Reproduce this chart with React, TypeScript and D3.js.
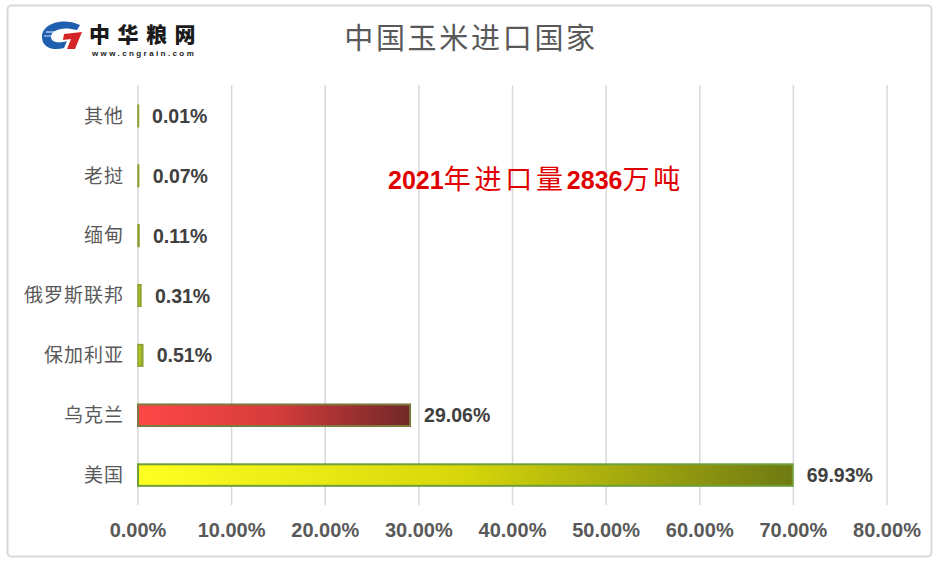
import React from "react";
import * as d3 from "d3";

const categories = ["其他", "老挝", "缅甸", "俄罗斯联邦", "保加利亚", "乌克兰", "美国"];
const values = [0.01, 0.07, 0.11, 0.31, 0.51, 29.06, 69.93];
const xTicks = [0, 10, 20, 30, 40, 50, 60, 70, 80];
const titleText = "中国玉米进口国家";
const noteParts = [
  { t: "2021", bold: true },
  { t: "年进口量", bold: false },
  { t: "2836", bold: true },
  { t: "万吨", bold: false },
];

const W = 941;
const H = 563;

export default function App() {
  const x = d3.scaleLinear().domain([0, 80]).range([138, 887]);
  const y = d3.scaleBand<string>().domain(categories).range([86, 505]).padding(0);
  const barH = y.bandwidth() * 0.36;
  const latin = "'Liberation Sans', Arial, sans-serif";
  const cjk = "'Noto Sans CJK SC', sans-serif";

  return (
    <svg
      width={W}
      height={H}
      style={{ position: "absolute", left: 0, top: 0, background: "#fff" }}
    >
      <defs>
        <linearGradient id="gUS" x1="0" x2="1" y1="0" y2="0">
          <stop offset="0" stopColor="#ffff22" />
          <stop offset="0.5" stopColor="#d6d60a" />
          <stop offset="1" stopColor="#6f7a12" />
        </linearGradient>
        <linearGradient id="gUA" x1="0" x2="1" y1="0" y2="0">
          <stop offset="0" stopColor="#ff4747" />
          <stop offset="0.5" stopColor="#d63c3c" />
          <stop offset="1" stopColor="#722828" />
        </linearGradient>
        <linearGradient id="gSmall" x1="0" x2="1" y1="0" y2="0">
          <stop offset="0" stopColor="#c8d820" />
          <stop offset="1" stopColor="#8aa030" />
        </linearGradient>
      </defs>

      <rect x={7.5} y={5.5} width={924} height={551} rx={4} fill="#fff" stroke="#d9d9d9" strokeWidth={2} />

      {/* logo */}
      <g>
        <path d="M80,25 C62,17 42,24 42,37 C42,48 54,51 64,48 L67,41 C58,44 51,42 51,37 C51,30 62,26 77,30 Z" fill="#1d5eae" />
        <line x1="46" y1="32" x2="80" y2="32" stroke="#fff" strokeWidth={1} />
        <line x1="44" y1="36" x2="60" y2="36" stroke="#fff" strokeWidth={0.8} />
        <path d="M64,34 L82,32 L75,49 L67,49 L71,39 L63,40 Z" fill="#d42424" />
        <text x={89} y={42} fontFamily={cjk} fontWeight={900} fontSize={21} fill="#1a1a1a" letterSpacing={7.5}>中华粮网</text>
        <text x={92} y={56} fontFamily={latin} fontWeight={700} fontSize={8} fill="#1a1a1a" letterSpacing={2.4}>www.cngrain.com</text>
      </g>

      <text x={471} y={49} textAnchor="middle" fontFamily={cjk} fontSize={29} fill="#595959" letterSpacing={2.7}>
        {titleText}
      </text>

      {/* gridlines */}
      {xTicks.map((t) => (
        <line key={t} x1={x(t)} x2={x(t)} y1={85} y2={505} stroke="#d9d9d9" strokeWidth={1.5} />
      ))}

      {/* bars */}
      {categories.map((c, i) => {
        const v = values[i];
        const yy = (y(c) as number) + (y.bandwidth() - barH) / 2;
        const isUA = c === "乌克兰";
        const isUS = c === "美国";
        const fill = isUA ? "url(#gUA)" : isUS ? "url(#gUS)" : "url(#gSmall)";
        const stroke = isUA ? "#7d7a40" : isUS ? "#6f9e3a" : "#8aa030";
        return (
          <g key={c}>
            <rect
              x={x(0)}
              y={yy}
              width={Math.max(x(v) - x(0), 0.5)}
              height={barH}
              fill={fill}
              stroke={stroke}
              strokeWidth={isUA || isUS ? 2 : 1.5}
            />
            <text
              x={x(v) + 14}
              y={(y(c) as number) + y.bandwidth() / 2}
              dy="0.36em"
              fontFamily={latin}
              fontWeight={700}
              fontSize={19.5}
              fill="#404040"
            >
              {v.toFixed(2)}%
            </text>
            <text
              x={124}
              y={(y(c) as number) + y.bandwidth() / 2}
              dy="0.36em"
              textAnchor="end"
              fontFamily={cjk}
              fontSize={19}
              letterSpacing={1}
              fill="#595959"
            >
              {c}
            </text>
          </g>
        );
      })}

      {/* x axis labels */}
      {xTicks.map((t) => (
        <text key={t} x={x(t)} y={537} textAnchor="middle" fontFamily={latin} fontWeight={700} fontSize={20} fill="#595959">
          {t.toFixed(2)}%
        </text>
      ))}

      {/* annotation */}
      <text x={388} y={189} fill="#e00000">
        {noteParts.map((p, i) => (
          <tspan
            key={i}
            fontFamily={p.bold ? latin : cjk}
            fontWeight={p.bold ? 700 : 400}
            fontSize={p.bold ? 25 : 27}
            letterSpacing={p.bold ? 0 : 3.8}
          >
            {p.t}
          </tspan>
        ))}
      </text>
    </svg>
  );
}
